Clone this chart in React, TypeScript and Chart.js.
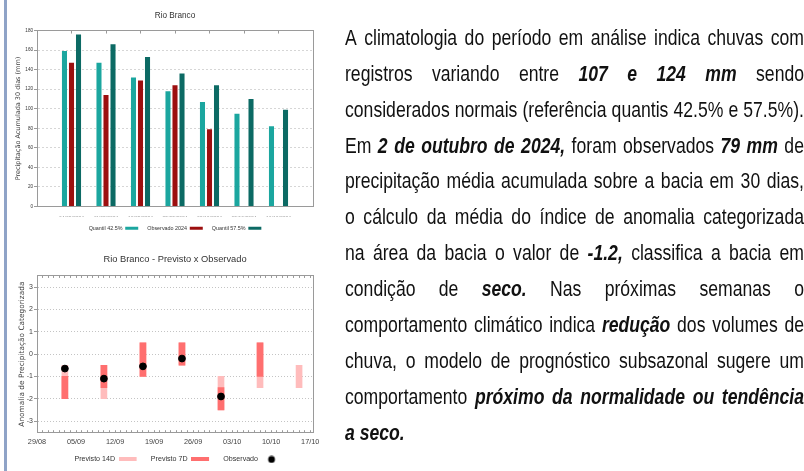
import React, { useEffect, useRef } from 'react';
import { Chart, registerables } from 'chart.js';
Chart.register(...registerables);

// ---------- Chart 1 data ----------
const barDates = ['04/09/2024', '11/09/2024', '18/09/2024', '25/09/2024', '02/10/2024', '09/10/2024', '16/10/2024'];
const quantil425 = [159, 147, 132, 118, 107, 95, 82];
const observado2024: (number | null)[] = [147, 114, 129, 124, 79, null, null];
const quantil575 = [176, 166, 153, 136, 124, 110, 99];

// ---------- Chart 2 data ----------
const axisDates = ['29/08', '05/09', '12/09', '19/09', '26/09', '03/10', '10/10', '17/10'];
const anomTicks = [-3, -2, -1, 0, 1, 2, 3];
const forecastDates = ['03/09', '10/09', '17/09', '24/09', '01/10', '08/10', '15/10'];
const previsto14D: ([number, number] | null)[] = [[-2, -0.5], [-2, -0.5], [-1, 0.5], [-0.5, 0.5], [-2.5, -1], [-1.5, 0.5], [-1.5, -0.5]];
const previsto7D: ([number, number] | null)[] = [[-2, -1], [-1.5, -0.5], [-1, 0.5], [-0.5, 0.5], [-2.5, -1.5], [-1, 0.5], null];
const observadoAnom: (number | null)[] = [-0.65, -1.1, -0.55, -0.2, -1.9, null, null];

// ---------- Text ----------
type Seg = [string, boolean];
const textLines: Seg[][] = [
  [['A climatologia do período em análise indica chuvas com', false]],
  [['registros variando entre', false], ['107 e 124 mm', true], ['sendo', false]],
  [['considerados normais (referência quantis 42.5% e 57.5%).', false]],
  [['Em', false], ['2 de outubro de 2024,', true], ['foram observados', false], ['79 mm', true], ['de', false]],
  [['precipitação média acumulada sobre a bacia em 30 dias,', false]],
  [['o cálculo da média do índice de anomalia categorizada', false]],
  [['na área da bacia o valor de', false], ['-1.2,', true], ['classifica a bacia em', false]],
  [['condição de', false], ['seco.', true], ['Nas próximas semanas o', false]],
  [['comportamento climático indica', false], ['redução', true], ['dos volumes de', false]],
  [['chuva, o modelo de prognóstico subsazonal sugere um', false]],
  [['comportamento', false], ['próximo da normalidade ou tendência', true]],
  [['a seco.', true]],
];

const SANS = '"Liberation Sans", Arial, sans-serif';
const WIDE = '"DejaVu Sans", sans-serif';
const BORDER = '#9a9a9a';

function dayIndex(s: string): number {
  const [d, m] = s.split('/').map(Number);
  return Math.round((Date.UTC(2024, m - 1, d) - Date.UTC(2024, 7, 29)) / 86400000);
}

function makeSwatch(w: number, h: number, draw: (g: CanvasRenderingContext2D) => void) {
  const c = document.createElement('canvas');
  c.width = w; c.height = h;
  draw(c.getContext('2d')!);
  return c;
}

const C14 = '#ffbcbc';
const C7 = '#ff6f6f';

export default function App() {
  const c1 = useRef<HTMLCanvasElement>(null);
  const c2 = useRef<HTMLCanvasElement>(null);

  useEffect(() => {
    const ch1 = new Chart(c1.current!, {
      type: 'bar',
      data: {
        datasets: [
          { label: 'Quantil 42.5%', data: quantil425.map((v, i) => ({ x: i + 1, y: v })), backgroundColor: '#1ba69f' },
          { label: 'Observado 2024', data: observado2024.map((v, i) => ({ x: i + 1, y: v })), backgroundColor: '#9c0f0f' },
          { label: 'Quantil 57.5%', data: quantil575.map((v, i) => ({ x: i + 1, y: v })), backgroundColor: '#0c6a64' },
        ] as any,
      },
      options: {
        responsive: false,
        animation: false,
        layout: { padding: 0 },
        datasets: { bar: { categoryPercentage: 0.61, barPercentage: 0.72 } } as any,
        plugins: {
          title: { display: true, text: 'Rio Branco', color: '#333', font: { family: SANS, size: 8.2, weight: 'normal' }, padding: { top: 10.5, bottom: 7.2 } },
          legend: {
            position: 'bottom', rtl: true, reverse: true, textDirection: 'ltr',
            labels: { boxWidth: 13, boxHeight: 3, padding: 9, color: '#333', font: { family: SANS, size: 5.4 } },
          },
          tooltip: { enabled: false },
        },
        scales: {
          x: {
            type: 'linear', position: 'bottom', min: 0, max: 8, offset: false,
            grid: { display: false, drawTicks: false, offset: false },
            border: { color: BORDER },
            ticks: { stepSize: 1, autoSkip: false, maxRotation: 0, padding: 9, color: '#333', font: { family: SANS, size: 5 }, callback: (v: any) => barDates[v - 1] ?? '' },
            afterFit: (s: any) => { s.height = 10.1; },
          },
          x2: {
            type: 'linear', position: 'top', min: 0, max: 8, offset: false,
            grid: { drawOnChartArea: false, tickLength: -3, color: BORDER, offset: false },
            border: { color: BORDER },
            ticks: { display: false, stepSize: 1 },
            afterFit: (s: any) => { s.height = 3; },
          },
          y: {
            min: 0, max: 180,
            ticks: { stepSize: 20, padding: 1, color: '#333', font: { family: SANS, size: 4.6 } },
            grid: { color: '#d6d6d6', tickLength: 3, tickColor: BORDER },
            border: { color: BORDER, dash: [2, 2] },
            title: { display: true, text: 'Precipitação Acumulada 30 dias (mm)', color: '#444', font: { family: WIDE, size: 6.5 }, padding: { top: 14.4, bottom: 0 } },
            afterFit: (s: any) => { s.width = 37; },
          },
          y2: {
            position: 'right', min: 0, max: 180,
            ticks: { display: false },
            grid: { drawOnChartArea: false, drawTicks: false },
            border: { color: BORDER },
            afterFit: (s: any) => { s.width = 37; },
          },
        } as any,
      },
    });

    const sw14 = makeSwatch(24, 4, (g) => { g.fillStyle = C14; g.fillRect(0, 0, 18, 4); });
    const sw7 = makeSwatch(24, 4, (g) => { g.fillStyle = C7; g.fillRect(0, 0, 18, 4); });
    const swDot = makeSwatch(24, 8, (g) => { g.fillStyle = '#000'; g.beginPath(); g.arc(10, 4, 3.4, 0, Math.PI * 2); g.fill(); });
    const swatches = [sw14, sw7, swDot];

    const ch2 = new Chart(c2.current!, {
      type: 'bar',
      data: {
        datasets: [
          {
            type: 'bar', label: 'Previsto 14D', order: 3, grouped: false, barThickness: 6,
            data: previsto14D.map((r, i) => (r ? { x: dayIndex(forecastDates[i]), y: r } : null)).filter(Boolean),
            backgroundColor: C14,
          },
          {
            type: 'bar', label: 'Previsto 7D', order: 2, grouped: false, barThickness: 6,
            data: previsto7D.map((r, i) => (r ? { x: dayIndex(forecastDates[i]), y: r } : null)).filter(Boolean),
            backgroundColor: C7,
          },
          {
            type: 'scatter', label: 'Observado', order: 1,
            data: observadoAnom.map((v, i) => (v !== null ? { x: dayIndex(forecastDates[i]), y: v } : null)).filter(Boolean),
            backgroundColor: '#000', borderColor: '#000', pointRadius: 3.4, pointHoverRadius: 3.4, showLine: false,
          },
        ] as any,
      },
      options: {
        responsive: false,
        animation: false,
        layout: { padding: 0 },
        plugins: {
          title: { display: true, fullSize: false, text: 'Rio Branco - Previsto x Observado', color: '#333', font: { family: SANS, size: 9.3, weight: 'normal' }, padding: { top: 13.4, bottom: 8.4 } },
          legend: {
            position: 'bottom', rtl: true, textDirection: 'ltr',
            labels: {
              usePointStyle: true, pointStyleWidth: 24, boxHeight: 4, padding: 8.25, color: '#333',
              font: { family: SANS, size: 7.1 },
              generateLabels: (chart: any) => {
                const items = (Chart.defaults.plugins.legend.labels as any).generateLabels(chart);
                items.forEach((it: any) => { it.pointStyle = swatches[it.datasetIndex]; });
                return items;
              },
            },
          },
          tooltip: { enabled: false },
        },
        scales: {
          x: {
            type: 'linear', position: 'bottom', min: 0, max: 49.5, offset: false,
            grid: { drawOnChartArea: false, tickLength: -2, color: BORDER, offset: false },
            border: { color: BORDER },
            ticks: {
              stepSize: 1, autoSkip: false, maxRotation: 0, includeBounds: false, padding: 7.3, color: '#444',
              font: { family: SANS, size: 7.3 },
              callback: (v: any) => (Number.isInteger(v) && v % 7 === 0 ? axisDates[v / 7] ?? '' : ''),
            },
            afterFit: (s: any) => { s.height = 15.45; },
          },
          x2: {
            type: 'linear', position: 'top', min: 0, max: 49.5, offset: false,
            grid: { drawOnChartArea: false, tickLength: -2, color: BORDER, offset: false },
            border: { color: BORDER },
            ticks: { display: false, stepSize: 1, includeBounds: false, autoSkip: false },
            afterFit: (s: any) => { s.height = 3; },
          },
          y: {
            min: -3.5, max: 3.5,
            afterBuildTicks: (s: any) => { s.ticks = anomTicks.map((v) => ({ value: v })); },
            ticks: { padding: 1, color: '#444', font: { family: SANS, size: 7 } },
            grid: { color: '#c4c4c4', tickLength: 3, tickColor: BORDER },
            border: { color: BORDER, dash: [1, 2] },
            title: { display: true, text: 'Anomalia de Precipitação Categorizada', color: '#444', font: { family: WIDE, size: 7.4 }, padding: { top: 18, bottom: 0 } },
            afterFit: (s: any) => { s.width = 37; },
          },
          y2: {
            position: 'right', min: -3.5, max: 3.5,
            ticks: { display: false },
            grid: { drawOnChartArea: false, drawTicks: false },
            border: { color: BORDER },
            afterFit: (s: any) => { s.width = 47; },
          },
        } as any,
      },
    });

    return () => { ch1.destroy(); ch2.destroy(); };
  }, []);

  return (
    <div style={{ position: 'absolute', left: 0, top: 0, width: 804, height: 471, overflow: 'hidden', background: '#fff' }}>
      <div style={{ position: 'absolute', left: 4, top: 0, width: 3, height: 471, background: '#8fa3c7' }} />
      <canvas ref={c1} width={350} height={241} style={{ position: 'absolute', left: 0, top: 0, width: 350, height: 241 }} />
      <canvas ref={c2} width={360} height={233} style={{ position: 'absolute', left: 0, top: 240, width: 360, height: 233 }} />
      <div style={{ position: 'absolute', left: 345, top: 19.9, width: 573.75, transform: 'scaleX(0.8)', transformOrigin: '0 0', fontFamily: SANS, fontSize: 22, color: '#111' }}>
        {textLines.map((line, li) => {
          const words: { w: string; b: boolean }[] = [];
          line.forEach(([t, b]) => t.split(/\s+/).filter(Boolean).forEach((w) => words.push({ w, b })));
          const last = li === textLines.length - 1;
          return (
            <div key={li} style={{ display: 'flex', justifyContent: last ? 'flex-start' : 'space-between', columnGap: last ? '0.278em' : '0.2em', alignItems: 'baseline', height: 35.9, lineHeight: '35.9px', whiteSpace: 'nowrap' }}>
              {words.map((o, wi) => (
                <span key={wi} style={o.b ? { fontWeight: 'bold', fontStyle: 'italic' } : undefined}>{o.w}</span>
              ))}
            </div>
          );
        })}
      </div>
    </div>
  );
}
